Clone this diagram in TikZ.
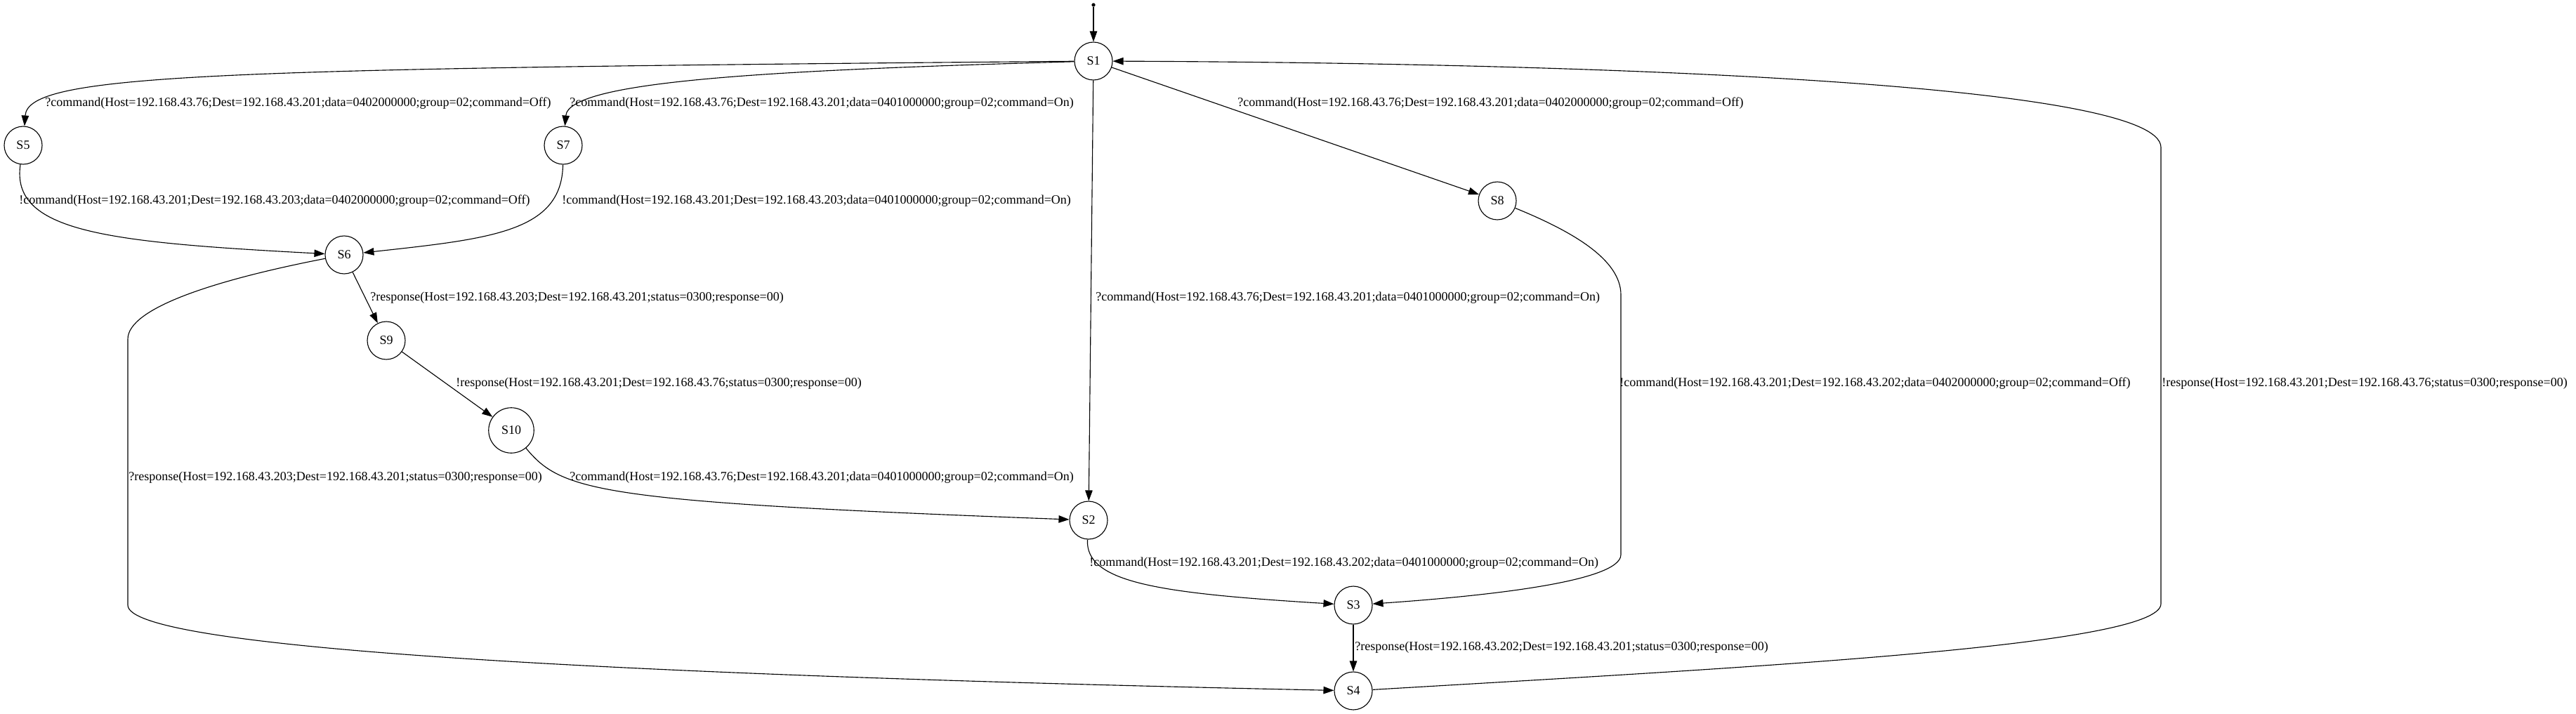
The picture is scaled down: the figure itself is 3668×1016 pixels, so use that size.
\documentclass[tikz,border=0pt]{standalone}
\usepackage{fontspec}
\setmainfont{Liberation Serif}
\usetikzlibrary{arrows.meta}

\begin{document}
\begin{tikzpicture}[x=0.6667pt,y=-0.6667pt]
            \tikzstyle{state}=[circle, minimum size = 36pt, inner sep=0pt, line width=0.75pt, draw = black, font=\fontsize{12}{14}\selectfont]
            \tikzstyle{start}=[circle, minimum size = 3.5pt, inner sep=0pt, fill = black]
            \tikzstyle{connect}=[line width=0.75pt, -{Triangle[length=10pt,width=7pt]}]
            \tikzstyle{lbl}=[anchor=west, inner sep=0pt, font=\fontsize{12}{14}\selectfont]
            \useasboundingbox (0,0) rectangle (3668,1016);
            {\node[start] (s0) at (1557,7){};
            \node[state] (s1) at (1557,87){S1};
            \node[state] (s5) at (33,207){S5};
            \node[state] (s7) at (802,207){S7};
            \node[state] (s6) at (490,363){S6};
            \node[state] (s9) at (550,485){S9};
            \node[state, minimum size = 43pt] (s10) at (728,613){S10};
            \node[state] (s8) at (2132,286){S8};
            \node[state] (s2) at (1550,741){S2};
            \node[state] (s3) at (1927,862){S3};
            \node[state] (s4) at (1927,984){S4};}
            {\node[lbl] (l15) at (64,147){?command(Host=192.168.43.76;Dest=192.168.43.201;data=0402000000;group=02;command=Off)};
            \node[lbl] (l17) at (811,147){?command(Host=192.168.43.76;Dest=192.168.43.201;data=0401000000;group=02;command=On)};
            \node[lbl] (l18) at (1762,147){?command(Host=192.168.43.76;Dest=192.168.43.201;data=0402000000;group=02;command=Off)};
            \node[lbl] (l56) at (27,286){!command(Host=192.168.43.201;Dest=192.168.43.203;data=0402000000;group=02;command=Off)};
            \node[lbl] (l76) at (800,286){!command(Host=192.168.43.201;Dest=192.168.43.203;data=0401000000;group=02;command=On)};
            \node[lbl] (l12) at (1560,424){?command(Host=192.168.43.76;Dest=192.168.43.201;data=0401000000;group=02;command=On)};
            \node[lbl] (l69) at (527,424){?response(Host=192.168.43.203;Dest=192.168.43.201;status=0300;response=00)};
            \node[lbl] (l910) at (649,546){!response(Host=192.168.43.201;Dest=192.168.43.76;status=0300;response=00)};
            \node[lbl] (l83) at (2306,546){!command(Host=192.168.43.201;Dest=192.168.43.202;data=0402000000;group=02;command=Off)};
            \node[lbl] (l41) at (3078,546){!response(Host=192.168.43.201;Dest=192.168.43.76;status=0300;response=00)};
            \node[lbl] (l64) at (183,680){?response(Host=192.168.43.203;Dest=192.168.43.201;status=0300;response=00)};
            \node[lbl] (l102) at (811,680){?command(Host=192.168.43.76;Dest=192.168.43.201;data=0401000000;group=02;command=On)};
            \node[lbl] (l23) at (1551,802){!command(Host=192.168.43.201;Dest=192.168.43.202;data=0401000000;group=02;command=On)};
            \node[lbl] (l34) at (1929,922){?response(Host=192.168.43.202;Dest=192.168.43.201;status=0300;response=00)};}
\path (s0) edge [connect] (s1);
            \path (s1) edge [connect] (s8);
            \path (s1) edge [connect] (s2);
            \path (s6) edge [connect] (s9);
            \path (s9) edge [connect] (s10);
            \path (s3) edge [connect] (s4);
            \draw [connect] (s1) .. controls (300,98) and (40,105) .. (s5);
            \draw [connect] (s1) .. controls (1100,100) and (810,115) .. (s7);
            \draw [connect] (s5) .. controls (15,330) and (150,345) .. (s6);
            \draw [connect] (s7) .. controls (800,330) and (700,340) .. (s6);
            \draw [connect] (s6) .. controls (300,400) and (182,440) .. (182,483) -- (182,862) .. controls (182,925) and (900,962) .. (s4);
            \draw [connect] (s10) .. controls (800,700) and (850,715) .. (s2);
            \draw [connect] (s2) .. controls (1545,830) and (1650,845) .. (s3);
            \draw [connect] (s8) .. controls (2240,330) and (2308,370) .. (2308,420) -- (2308,790) .. controls (2308,830) and (2100,850) .. (s3);
            \draw [connect] (s4) .. controls (2500,950) and (3077,920) .. (3077,860) -- (3077,210) .. controls (3077,120) and (2300,90) .. (s1);
        \end{tikzpicture}
\end{document}
